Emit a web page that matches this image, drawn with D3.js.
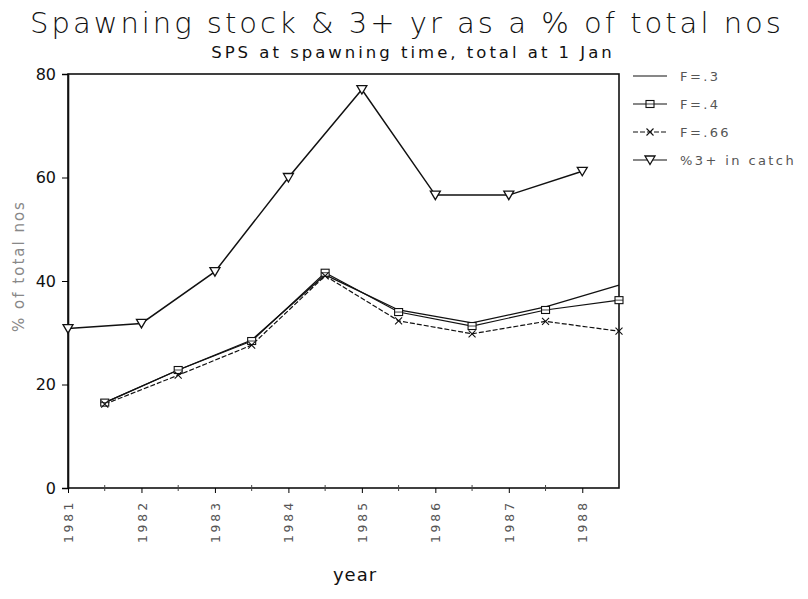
<!DOCTYPE html>
<html>
<head>
<meta charset="utf-8">
<script src="https://cdn.jsdelivr.net/npm/d3@7/dist/d3.min.js"></script>
<style>
  body { margin: 0; background: #fff; }
  svg { display: block; }
  text { font-family: "DejaVu Sans", sans-serif; }
</style>
</head>
<body>
<svg id="chart" width="808" height="599"></svg>
<script>
// Year ticks along the x axis
const yearTicks = [1981, 1982, 1983, 1984, 1985, 1986, 1987, 1988];
const yTicks = [0, 20, 40, 60, 80];

// Spawning stock as % of total numbers, mid-year positions
const spsYears = [1981.5, 1982.5, 1983.5, 1984.5, 1985.5, 1986.5, 1987.5, 1988.5];
const spsF30 = [16.5, 22.8, 28.6, 41.2, 34.4, 31.9, 35.0, 39.2];
const spsF40 = [16.5, 22.8, 28.4, 41.6, 34.0, 31.3, 34.4, 36.3];
const spsF66 = [16.2, 21.8, 27.6, 41.0, 32.3, 29.8, 32.2, 30.3];

// 3+ yr fish in the catch as % of total numbers
const catchYears = [1981, 1982, 1983, 1984, 1985, 1986, 1987, 1988];
const catch3 = [30.8, 31.8, 41.8, 60.0, 77.0, 56.6, 56.6, 61.2];

const seriesNames = ["F=.3", "F=.4", "F=.66", "%3+ in catch"];

const svg = d3.select("#chart");
const margin = { left: 68, top: 74, right: 619, bottom: 488 };

const x = d3.scaleLinear().domain([1981, 1988.5]).range([margin.left, margin.right]);
const y = d3.scaleLinear().domain([0, 80]).range([margin.bottom, margin.top]);

// Titles
svg.append("text").attr("x", 407).attr("y", 33).attr("text-anchor", "middle")
  .style("font-weight", "200").style("fill", "#111")
  .style("font-size", "29px").style("letter-spacing", "3px")
  .text("Spawning stock & 3+ yr as a % of total nos");
svg.append("text").attr("x", 413).attr("y", 58).attr("text-anchor", "middle")
  .style("font-size", "16.5px").style("letter-spacing", "3px").style("fill", "#111")
  .text("SPS at spawning time, total at 1 Jan");

// Frame
svg.append("rect").attr("x", margin.left).attr("y", margin.top)
  .attr("width", margin.right - margin.left).attr("height", margin.bottom - margin.top)
  .attr("fill", "none").attr("stroke", "#111").attr("stroke-width", 1.6);

// Y axis
const yAxis = d3.axisLeft(y).tickValues(yTicks).tickSize(6).tickPadding(6);
const gy = svg.append("g").attr("transform", `translate(${margin.left},0)`).call(yAxis);
gy.select(".domain").attr("stroke", "#111").attr("stroke-width", 1.6);
gy.selectAll("text").style("font-size", "16px").style("fill", "#111");

// X axis: major ticks at each year, minor ticks at half-years
const xAxis = d3.axisBottom(x).tickValues(yearTicks).tickSize(5).tickFormat(d3.format("d"));
const gx = svg.append("g").attr("transform", `translate(0,${margin.bottom})`).call(xAxis);
gx.select(".domain").remove();
gx.selectAll("text")
  .attr("transform", "rotate(-90)")
  .attr("text-anchor", "end")
  .attr("x", -12).attr("y", 0).attr("dy", "0.35em")
  .style("font-size", "13px").style("font-family", "'DejaVu Sans Mono', monospace")
  .style("letter-spacing", "3px")
  .style("fill", "#555");
const minor = yearTicks.map(d => d + 0.5).filter(d => d < 1988.5);
svg.append("g").selectAll("line").data(minor).join("line")
  .attr("x1", d => x(d)).attr("x2", d => x(d))
  .attr("y1", margin.bottom - 3).attr("y2", margin.bottom + 3)
  .attr("stroke", "#444").attr("stroke-width", 1);

// Axis titles
svg.append("text").attr("transform", "translate(24,266) rotate(-90)")
  .attr("text-anchor", "middle").style("font-size", "15px").style("letter-spacing", "2px")
  .style("fill", "#888")
  .text("% of total nos");
svg.append("text").attr("x", 355).attr("y", 581).attr("text-anchor", "middle")
  .style("font-size", "18px").style("letter-spacing", "1px").style("fill", "#111")
  .text("year");

// Marker helpers
function square(g, cx, cy) {
  g.append("rect").attr("x", cx - 4).attr("y", cy - 3.5).attr("width", 8).attr("height", 7)
    .attr("fill", "#fff").attr("stroke", "#111").attr("stroke-width", 1.1);
  g.append("line").attr("x1", cx - 4).attr("x2", cx + 4).attr("y1", cy).attr("y2", cy)
    .attr("stroke", "#111").attr("stroke-width", 0.8);
}
function cross(g, cx, cy) {
  g.append("path").attr("d", `M${cx-3.5},${cy-3.5}L${cx+3.5},${cy+3.5}M${cx-3.5},${cy+3.5}L${cx+3.5},${cy-3.5}`)
    .attr("stroke", "#111").attr("stroke-width", 1.1).attr("fill", "none");
}
function tri(g, cx, cy) {
  g.append("path").attr("d", `M${cx-5},${cy-4}L${cx+5},${cy-4}L${cx},${cy+4.5}Z`)
    .attr("fill", "#fff").attr("stroke", "#111").attr("stroke-width", 1.3);
}

const line = d3.line().x(d => x(d[0])).y(d => y(d[1]));

const series = [
  { name: seriesNames[0], xs: spsYears, ys: spsF30, dash: null, w: 1.3, mark: null },
  { name: seriesNames[1], xs: spsYears, ys: spsF40, dash: null, w: 1.2, mark: square },
  { name: seriesNames[2], xs: spsYears, ys: spsF66, dash: "5,2", w: 1.2, mark: cross },
  { name: seriesNames[3], xs: catchYears, ys: catch3, dash: null, w: 1.5, mark: tri }
];

const plot = svg.append("g");
series.forEach(s => {
  const pts = s.xs.map((v, i) => [v, s.ys[i]]);
  plot.append("path").datum(pts).attr("d", line)
    .attr("fill", "none").attr("stroke", "#111").attr("stroke-width", s.w)
    .attr("stroke-dasharray", s.dash);
});
series.forEach(s => {
  if (!s.mark) return;
  s.xs.forEach((v, i) => s.mark(plot, x(v), y(s.ys[i])));
});

// Legend
const legendY = [76, 104, 132, 160];
const lg = svg.append("g");
series.forEach((s, i) => {
  const ly = legendY[i];
  lg.append("line").attr("x1", 633).attr("x2", 667).attr("y1", ly).attr("y2", ly)
    .attr("stroke", "#111").attr("stroke-width", 1.1).attr("stroke-dasharray", s.dash);
  if (s.mark) s.mark(lg, 650, ly);
  lg.append("text").attr("x", 680).attr("y", ly).attr("dy", "0.35em")
    .style("font-size", "13px").style("letter-spacing", "2.4px").style("fill", "#555").text(s.name);
});
</script>
</body>
</html>
